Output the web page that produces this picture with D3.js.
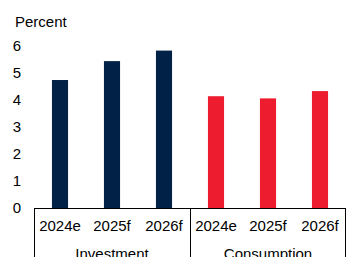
<!DOCTYPE html>
<html><head><meta charset="utf-8">
<script src="https://cdn.jsdelivr.net/npm/d3@7"></script>
<style>body{margin:0;background:#fff}svg{display:block}text{font-family:"Liberation Sans",Arial,sans-serif;font-size:15px;fill:#000}</style>
</head><body>
<script>
const groups = ["Investment", "Consumption"];
const years = ["2024e", "2025f", "2026f"];
const investment = [4.74, 5.44, 5.83];
const consumption = [4.14, 4.06, 4.33];
const yTicks = [0, 1, 2, 3, 4, 5, 6];
const colors = {Investment: "#012147", Consumption: "#ED1C2E"};

const W = 346, H = 257;
const svg = d3.select("body").append("svg").attr("width", W).attr("height", H);

const data = [];
groups.forEach((g, gi) => {
  const vals = gi === 0 ? investment : consumption;
  years.forEach((y, i) => data.push({group: g, year: y, key: g + "|" + y, value: vals[i]}));
});

const x = d3.scaleBand().domain(data.map(d => d.key)).range([34, 346]).paddingInner(0.69).paddingOuter(0.345);
const y = d3.scaleLinear().domain([0, 6]).range([208, 46]);

// y tick labels
const yAxis = d3.axisLeft(y).tickValues(yTicks).tickSize(0).tickPadding(0).tickFormat(d3.format("d"));
const ya = svg.append("g").attr("transform", "translate(21,0)").call(yAxis);
ya.select(".domain").remove();
ya.selectAll("text").style("font-size", "15px").style("font-family", "'Liberation Sans',Arial,sans-serif").attr("fill", "#000");

svg.append("text").attr("x", 15).attr("y", 27).text("Percent");

// bars
svg.selectAll("rect.bar").data(data).join("rect").attr("class", "bar")
  .attr("x", d => x(d.key)).attr("width", x.bandwidth())
  .attr("y", d => y(d.value)).attr("height", d => y(0) - y(d.value))
  .attr("fill", d => colors[d.group]);

// x axis line
const step = x.step();
const x0 = 34;
svg.append("line").attr("x1", x0).attr("x2", 346).attr("y1", 208.5).attr("y2", 208.5).attr("stroke", "#000").attr("stroke-width", 1);
// group separators
const seps = [0, 3, 6].map(i => x0 + i * step);
svg.selectAll("line.sep").data(seps).join("line").attr("class", "sep")
  .attr("x1", d => Math.min(Math.round(d) + 0.5, 345.5)).attr("x2", d => Math.min(Math.round(d) + 0.5, 345.5))
  .attr("y1", 208).attr("y2", H).attr("stroke", "#000").attr("stroke-width", 1);

// year labels
svg.selectAll("text.yr").data(data).join("text").attr("class", "yr")
  .attr("x", d => x(d.key) + x.bandwidth() / 2).attr("y", 231).attr("text-anchor", "middle").text(d => d.year);

// group labels
svg.selectAll("text.grp").data(groups).join("text").attr("class", "grp")
  .attr("x", (g, gi) => x0 + (gi * 3 + 1.5) * step).attr("y", 259).attr("text-anchor", "middle").text(g => g);
</script>
</body></html>
